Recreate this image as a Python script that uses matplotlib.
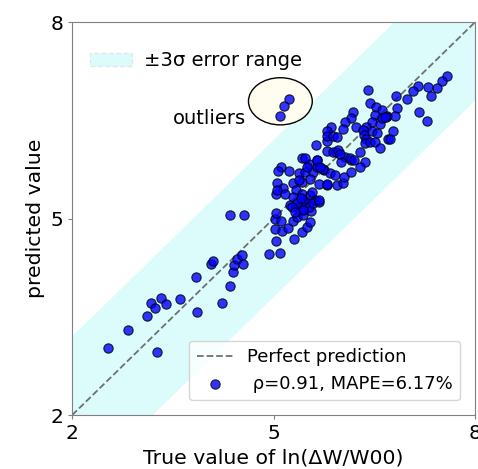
import numpy as np
import matplotlib.pyplot as plt
from matplotlib.patches import Ellipse, Patch

# true / predicted values
true_vals = [2.54, 2.83, 3.27, 3.12, 3.17, 3.24, 3.33, 3.40, 3.61, 3.86, 3.84, 4.06, 4.09, 4.23,
             4.35, 4.39, 4.41, 4.45, 4.53, 4.54, 4.35, 4.56,
             4.93, 5.10, 5.04, 5.31, 5.02, 5.12, 5.21, 5.42, 5.49, 5.54, 5.02, 5.04, 5.11, 5.29,
             5.35, 5.44, 5.56, 5.25, 5.33, 5.44, 5.42, 5.52, 5.62,
             5.63, 5.79, 5.93, 5.42, 5.53, 5.68, 5.11, 5.23, 5.38, 5.47, 5.59, 5.75, 5.84, 5.91,
             5.05, 5.14, 5.29, 5.42, 5.54, 5.67, 5.79, 5.94, 5.04, 5.17, 5.34, 5.42, 5.54, 5.29,
             5.44, 5.35, 5.27, 5.52, 5.44, 5.59, 5.68, 5.06, 5.05, 5.40, 5.67, 5.57, 5.32, 5.64,
             5.65, 5.73, 5.38,
             6.41, 6.44, 6.53, 6.61, 6.69, 6.51, 6.46, 6.58, 6.38, 6.46, 6.54, 6.71, 6.18, 6.15,
             6.06, 5.86, 5.79, 5.80, 5.88, 5.95, 6.03, 6.23, 6.33, 6.34, 6.38, 6.36, 6.43, 6.51,
             6.58, 5.79, 5.89, 5.96, 6.06, 6.15, 6.29, 6.36, 5.47, 5.64, 5.49, 5.69, 6.01, 6.13,
             6.03, 6.04, 6.15, 6.28, 6.19, 5.99, 5.80, 6.77, 6.67, 6.61,
             7.58, 7.50, 7.43, 7.30, 7.35, 7.15, 7.07, 6.99, 6.82, 6.83, 6.81, 7.17, 7.29, 6.66,
             6.73,
             5.23, 5.16, 5.10]
pred_vals = [3.03, 3.30, 2.97, 3.51, 3.71, 3.63, 3.78, 3.69, 3.77, 3.58, 4.11, 4.31, 4.35, 3.71,
             3.97, 4.18, 4.29, 4.38, 4.44, 4.31, 5.06, 5.06,
             4.46, 4.48, 4.65, 4.69, 4.84, 4.81, 4.85, 4.80, 4.87, 4.95, 4.99, 5.09, 4.97, 4.97,
             5.02, 5.05, 5.11, 5.21, 5.17, 5.15, 5.23, 5.26, 5.28,
             6.12, 6.19, 6.02, 5.92, 5.83, 5.79, 5.79, 5.73, 5.70, 5.71, 5.71, 5.74, 5.70, 5.66,
             5.54, 5.46, 5.54, 5.56, 5.61, 5.53, 5.51, 5.51, 5.38, 5.38, 5.44, 5.38, 5.36, 5.33,
             5.28, 5.23, 5.18, 5.18, 5.13, 5.23, 5.26, 5.73, 5.44, 5.32, 5.29, 5.41, 5.10, 5.90,
             5.78, 5.75, 5.59,
             6.96, 6.76, 6.71, 6.66, 6.56, 6.58, 6.48, 6.45, 6.40, 6.33, 6.30, 6.21, 6.63, 6.53,
             6.48, 6.40, 6.33, 6.26, 6.26, 6.25, 6.36, 6.40, 6.35, 6.27, 6.22, 6.15, 6.17, 6.17,
             6.07, 6.03, 6.02, 6.05, 5.94, 5.89, 6.02, 5.87, 5.92, 5.89, 5.79, 5.79, 5.87, 5.92,
             5.55, 5.63, 5.71, 5.78, 5.89, 5.99, 5.53, 6.34, 6.55, 6.54,
             7.18, 7.10, 7.00, 7.01, 6.87, 7.02, 6.94, 6.82, 6.87, 6.69, 6.56, 6.63, 6.49, 6.55,
             6.22,
             6.83, 6.72, 6.57]

sigma3 = 1.2
lims = [2, 8]

fig = plt.figure(figsize=(4.78, 4.69), dpi=100)
ax = fig.add_axes([0.151, 0.115, 0.843, 0.838])

xx = np.array(lims)
ax.fill_between(xx, xx - sigma3, xx + sigma3, color='#dcfcfc', lw=0, zorder=0)
perfect, = ax.plot(xx, xx, '--', color='#707070', lw=1.3, label='Perfect prediction', zorder=1)

ell = Ellipse((5.10, 6.79), 0.95, 0.72, facecolor='#fffdf0', edgecolor='black', lw=1, zorder=2)
ax.add_patch(ell)
ax.text(4.04, 6.52, 'outliers', fontsize=14, ha='center', va='center')

pts = ax.scatter(true_vals, pred_vals, s=45, color='blue', alpha=0.8, edgecolors='black',
                 linewidths=0.8, label=' ρ=0.91, MAPE=6.17%', zorder=3)

band = Patch(facecolor='#dcfcfc', edgecolor='#e6e6e6', linestyle='--', label='±3σ error range')
leg1 = ax.legend(handles=[band], loc='upper left', frameon=False, fontsize=14,
                 bbox_to_anchor=(0.0, 0.97), handlelength=2.2, handletextpad=0.6)
ax.add_artist(leg1)
ax.legend(handles=[perfect, pts], loc='lower right', fontsize=13, scatterpoints=1,
          bbox_to_anchor=(0.985, 0.015))

ax.set_xlim(lims)
ax.set_ylim(lims)
ax.set_xticks([2, 5, 8])
ax.set_yticks([2, 5, 8])
ax.tick_params(labelsize=14.5, length=3, color='gray')
for sp in ax.spines.values():
    sp.set_color('gray')
ax.set_xlabel('True value of ln(ΔW/W00)', fontsize=14.7)
ax.set_ylabel('predicted value', fontsize=14.7)

fig.savefig('out.png', dpi=100)
